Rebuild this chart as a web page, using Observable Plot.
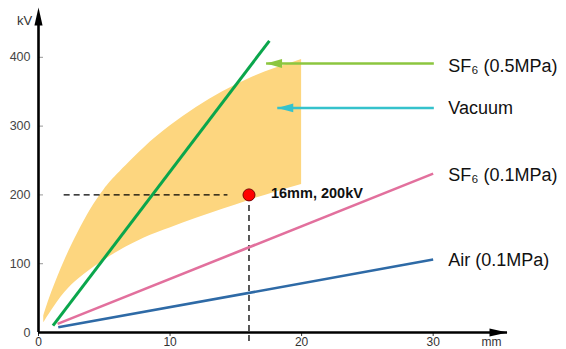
<!DOCTYPE html>
<html>
<head>
<meta charset="utf-8">
<script src="https://cdn.jsdelivr.net/npm/d3@7"></script>
<script src="https://cdn.jsdelivr.net/npm/@observablehq/plot@0.6"></script>
<style>
  html, body { margin: 0; padding: 0; background: #fff; }
  svg { font-family: "Liberation Sans", Arial, sans-serif; overflow: visible; }
</style>
</head>
<body>
<div id="chart"></div>
<script>
// Vacuum band (gap mm vs breakdown kV)
const bandX     = [0.4, 1,  2,   3,   4,   5,   6,   8,   10,  12,  14,  16,  18,  20];
const bandUpper = [24,  58, 105, 145, 180, 208, 230, 268, 300, 327, 350, 369, 384, 397];
const bandLower = [14,  32, 58,  77,  92,  105, 117, 137, 152, 166, 179, 192, 204, 215];

// Straight-line series: [x0, y0, x1, y1]
const seriesNames  = ["SF6 (0.5MPa)", "SF6 (0.1MPa)", "Air (0.1MPa)"];
const seriesX0     = [1.1, 1.45, 1.5];
const seriesY0     = [10, 12.5, 7.5];
const seriesX1     = [17.55, 30, 30];
const seriesY1     = [424, 231, 106];
const seriesColors = ["#0aa64c", "#e2709d", "#2e6aa6"];

// Right-hand labels
const labelTexts = ["SF₆ (0.5MPa)", "Vacuum", "SF₆ (0.1MPa)", "Air (0.1MPa)"];
const labelY     = [387, 325.5, 228, 104.5];
const labelX     = 31.15;

// Pointer arrows (to the band)
const arrowNames  = ["SF6 (0.5MPa)", "Vacuum"];
const arrowTipX   = [17.3, 18.15];
const arrowEndX   = [30.05, 30.05];
const arrowY      = [391, 326.5];
const arrowColors = ["#8cc63f", "#35c2cc"];

// Highlighted point
const pointX = 16, pointY = 200, pointLabel = "16mm, 200kV";
const dashStartX = 1.95, dashEndX = 14.4;

// Axes
const xTicks = [0, 10, 20, 30];
const yTicks = [0, 100, 200, 300, 400];
const xDomain = [0, 35.65];
const yDomain = [0, 460.8];

const band = bandX.map((x, i) => ({x, lo: bandLower[i], hi: bandUpper[i]}));
const segs = seriesNames.map((name, i) => ({name, x1: seriesX0[i], y1: seriesY0[i], x2: seriesX1[i], y2: seriesY1[i], color: seriesColors[i]}));
const labels = labelTexts.map((t, i) => ({t, x: labelX, y: labelY[i]}));
const arrows = arrowNames.map((n, i) => ({n, x1: arrowTipX[i], x2: arrowEndX[i], y: arrowY[i], color: arrowColors[i]}));

// narrow filled arrowhead symbol: base centered at origin, tip pointing up
const headSymbol = {
  draw(ctx, size) {
    const r = Math.sqrt(size / Math.PI);
    ctx.moveTo(0, -2 * r);
    ctx.lineTo(0.45 * r, 0);
    ctx.lineTo(-0.45 * r, 0);
    ctx.closePath();
  }
};
const arrowHeadSymbol = {
  draw(ctx, size) {
    const r = Math.sqrt(size / Math.PI);
    ctx.moveTo(0, -2 * r);
    ctx.lineTo(0.55 * r, 0);
    ctx.lineTo(-0.55 * r, 0);
    ctx.closePath();
  }
};

const font = "Liberation Sans, Arial, sans-serif";

const chart = Plot.plot({
  width: 566,
  height: 349,
  marginLeft: 38,
  marginRight: 59,
  marginTop: 15,
  marginBottom: 17,
  style: {fontFamily: font, background: "#fff", overflow: "visible"},
  x: {domain: xDomain},
  y: {domain: yDomain},
  marks: [
    Plot.areaY(band, {x: "x", y1: "lo", y2: "hi", fill: "#fdd67f", curve: "natural"}),
    // dashed guides
    Plot.ruleY([pointY], {x1: dashStartX, x2: dashEndX, stroke: "#000", strokeWidth: 1.3, strokeDasharray: "6,4"}),
    Plot.ruleX([pointX], {y1: 0, y2: pointY, stroke: "#000", strokeWidth: 1.3, strokeDasharray: "6,4", insetTop: 9}),
    // series lines
    Plot.link(segs, {x1: "x1", y1: "y1", x2: "x2", y2: "y2", stroke: "color", strokeWidth: (d) => d.name === "SF6 (0.5MPa)" ? 3 : 2.6}),
    // pointer arrows
    Plot.link(arrows, {x1: "x1", x2: "x2", y1: "y", y2: "y", stroke: "color", strokeWidth: 2.5, insetLeft: 12}),
    Plot.dot(arrows, {x: "x1", y: "y", fill: "color", stroke: null, symbol: arrowHeadSymbol, r: 8, rotate: -90, dx: 16}),
    // highlight point
    Plot.dot([{x: pointX, y: pointY}], {x: "x", y: "y", r: 6, fill: "#ff0000", stroke: "#7a0000", strokeWidth: 1}),
    Plot.text([pointLabel], {x: pointX, y: pointY, dx: 22, dy: -2, text: (d) => d, textAnchor: "start", fontWeight: "bold", fontSize: 14.5, fill: "#111"}),
    // right labels
    Plot.text(labels, {x: "x", y: "y", text: "t", textAnchor: "start", fontSize: 18, fill: "#111"}),
    // axes
    Plot.axisX({ticks: xTicks, tickSize: 4, tickPadding: 1, fontSize: 12, color: "#333", tickFormat: (d) => d}),
    Plot.axisY({ticks: yTicks, tickSize: -5, tickPadding: 13, fontSize: 12.5, color: "#444", tickFormat: (d) => d, stroke: "#999"}),
    Plot.ruleY([0], {stroke: "#000", strokeWidth: 2.6}),
    Plot.ruleX([0], {stroke: "#000", strokeWidth: 2.6}),
    Plot.dot([0], {x: xDomain[1], y: 0, symbol: headSymbol, r: 9, rotate: 90, dx: -18, fill: "#000", stroke: null}),
    Plot.dot([0], {x: 0, y: yDomain[1], symbol: headSymbol, r: 9, dy: 10, fill: "#000", stroke: null}),
    Plot.text(["kV"], {x: 0, y: yDomain[1], dx: -14, dy: 5, text: (d) => d, fontSize: 13, fill: "#333"}),
    Plot.text(["mm"], {x: xDomain[1], y: 0, dx: -16, dy: 10, text: (d) => d, fontSize: 12, fill: "#333"})
  ]
});
document.getElementById("chart").appendChild(chart);
</script>
</body>
</html>
